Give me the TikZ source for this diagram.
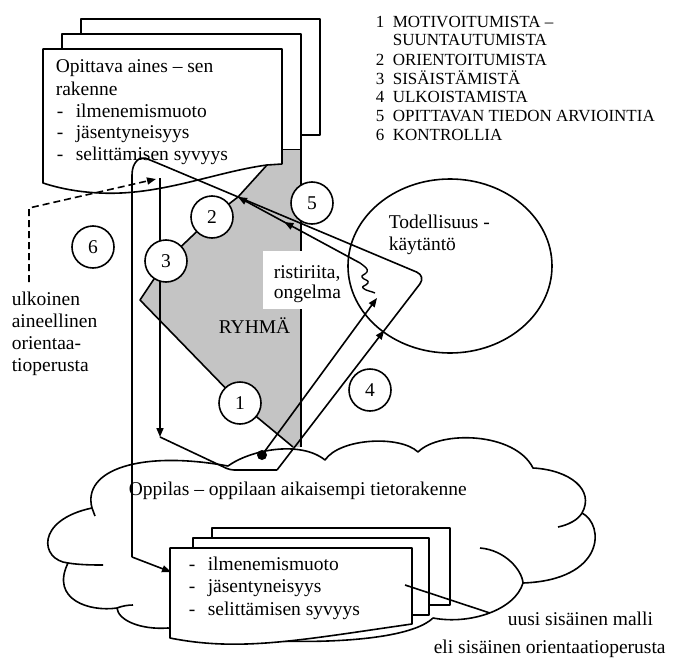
\documentclass[tikz,border=0pt]{standalone}
\usepackage{fontspec}
\setmainfont{Liberation Serif}
\usetikzlibrary{arrows.meta,decorations.markings}
\tikzset{
  tipend/.style={-{Triangle[length=9pt,width=7pt]}},
  midarrow/.style={postaction={decorate},decoration={markings,mark=at position #1 with {\arrow{Triangle[length=9pt,width=7pt]}}}},
  numc/.style={circle,draw,fill=white,minimum size=42pt,inner sep=0pt,font=\fontsize{19.5}{19.5}\selectfont},
  lbl/.style={anchor=base west,inner sep=0pt,font=\fontsize{19.5}{22}\selectfont},
  lst/.style={anchor=base west,inner sep=0pt,font=\fontsize{17}{19}\selectfont},
  pagebox/.style={draw,fill=white},
  ryhma/.style={fill={rgb,255:red,196;green,196;blue,196}},
}
\begin{document}
\begin{tikzpicture}[x=1pt,y=-1pt,line width=1.6pt,line join=round]
\useasboundingbox (0,0) rectangle (674,661);
\fill[white] (0,0) rectangle (674,661);

% ---------- cloud (Oppilas)
\draw (92,508) .. controls (82,470) and (140,450) .. (228,466)
  .. controls (250,450) and (300,440) .. (325,460)
  .. controls (340,438) and (400,435) .. (418,452)
  .. controls (440,430) and (515,432) .. (533,468)
  .. controls (570,470) and (595,490) .. (582,513)
  .. controls (605,525) and (605,580) .. (523,583)
  .. controls (515,610) and (470,625) .. (433,618)
  .. controls (400,650) and (230,645) .. (168,628)
  .. controls (140,630) and (118,620) .. (117,608)
  .. controls (90,612) and (50,600) .. (68,563)
  .. controls (40,560) and (35,520) .. (92,508) -- cycle;
\draw (92,508) .. controls (93,511) and (94,513) .. (95,516);
\draw (68,563) .. controls (80,565) and (95,565) .. (103,565);
\draw (117,608) .. controls (122,606) and (128,605) .. (133,605);
\draw (480,548) .. controls (505,550) and (522,570) .. (523,583);
\draw (582,513) .. controls (578,520) and (568,525) .. (558,527);

% ---------- top-left stacked pages
\draw[pagebox] (81,19) rectangle (320,135);
\draw[pagebox] (62,34) rectangle (301,150);
\fill[ryhma] (283,150) -- (301,150) -- (301,447) -- (293,447) -- (240,402)
  -- (140,300) -- (166,262) -- (212,217) -- (238,197) -- (267,165) -- (283,165) -- cycle;
\draw (301,150) -- (301,447);
\draw[pagebox] (43,49) -- (282,49) -- (282,164) -- (267,165)
  .. controls (215,172) and (160,196) .. (100,193)
  .. controls (75,192) and (55,187) .. (43,183) -- cycle;

\node[lbl] (tl1) at (55,73) {Opittava aines – sen};
\node[lbl] (tl2) at (55,95) {rakenne};
\node[lbl] (tl3a) at (56,117) {-};
\node[lbl] (tl3) at (75,117) {ilmenemismuoto};
\node[lbl] (tl4a) at (56,138) {-};
\node[lbl] (tl4) at (75,138) {jäsentyneisyys};
\node[lbl] (tl5a) at (56,160) {-};
\node[lbl] (tl5) at (75,160) {selittämisen syvyys};

% ---------- RYHMÄ polygon edges (circles placed on top later)
\coordinate (gA) at (267,165);
\coordinate (gB) at (238,197);
\coordinate (gC) at (140,300);
\coordinate (gD) at (293,447);
\coordinate (c1) at (240,403);
\coordinate (c2) at (212,217);
\coordinate (c3) at (166,261);
\draw (gA) -- (gB) -- (c2) -- (c3) -- (gC) -- (c1) -- (gD);

% label box
\node[fill=white,minimum width=84pt,minimum height=58pt,inner sep=0pt,anchor=north west] (rbox) at (262,250) {};
\node[lbl] (rist1) at (273,278) {ristiriita,};
\node[lbl] (rist2) at (273,298) {ongelma};
\node[lbl] (ryh) at (218,333) {RYHMÄ};

% ---------- Todellisuus ellipse
\draw (450,266) ellipse [x radius=102, y radius=87];
\node[lbl] (tod1) at (388,228) {Todellisuus -};
\node[lbl] (tod2) at (388,250) {käytäntö};

% ---------- zigzag (ristiriita)
\coordinate (ztop) at (360,263);
\coordinate (zbot) at (375,293);
\draw[line width=1.4pt] (ztop) .. controls (364,266) and (369,269) .. (367,272)
  .. controls (365,275) and (361,275) .. (362,277)
  .. controls (363,280) and (370,280) .. (368,283)
  .. controls (366,286) and (361,286) .. (363,288)
  .. controls (366,291) and (371,291) .. (zbot);

% ---------- connectors
\coordinate (dot) at (262,455);
\fill (dot) circle (5);
\draw[tipend] (dot) -- (377,298);
\draw[tipend,midarrow=0.62] (ztop) -- (gB);
\coordinate (l3top) at (160,178);
\coordinate (l3arr) at (160,437);
\coordinate (lbl0) at (230,470);
\coordinate (lbr) at (277,470);
\coordinate (lcrn) at (426,276);
\coordinate (lvb) at (132,557);
\coordinate (bin) at (171,572);
\draw[tipend] (l3top) -- (l3arr);
\draw[rounded corners=4pt] (l3arr) -- (lbl0) -- (lbr);
\draw[rounded corners=10pt,midarrow=176pt] (lbr) -- (lcrn) -- (155,162)
  .. controls (140,156) and (132,162) .. (132,185) -- (lvb);
\draw[tipend] (lvb) -- (bin);
\draw[dashed,dash pattern=on 7pt off 4pt,tipend] (29,282) -- (29,208) -- (156,179);

% ---------- numbered circles
\node[numc] (n1) at (c1) {1};
\node[numc] (n2) at (c2) {2};
\node[numc] (n3) at (c3) {3};
\node[numc] (n5) at (312,203) {5};
\node[numc] (n4) at (370,390) {4};
\node[numc] (n6) at (93,247) {6};

% ---------- left text
\node[lbl] (ul1) at (11,305) {ulkoinen};
\node[lbl] (ul2) at (11,327) {aineellinen};
\node[lbl] (ul3) at (11,349) {orientaa-};
\node[lbl] (ul4) at (11,371) {tioperusta};

% ---------- legend
\node[lst] (k1) at (375,28) {1};
\node[lst] (t1) at (392,28) {MOTIVOITUMISTA –};
\node[lst] (t1b) at (392,46) {SUUNTAUTUMISTA};
\node[lst] (k2) at (375,65.5) {2};
\node[lst] (t2) at (392,65.5) {ORIENTOITUMISTA};
\node[lst] (k3) at (375,84) {3};
\node[lst] (t3) at (392,84) {SISÄISTÄMISTÄ};
\node[lst] (k4) at (375,102.5) {4};
\node[lst] (t4) at (392,102.5) {ULKOISTAMISTA};
\node[lst] (k5) at (375,121.5) {5};
\node[lst] (t5) at (392,121.5) {OPITTAVAN TIEDON ARVIOINTIA};
\node[lst] (k6) at (375,140.5) {6};
\node[lst] (t6) at (392,140.5) {KONTROLLIA};

% ---------- Oppilas
\node[lbl] (opp) at (128,495) {Oppilas – oppilaan aikaisempi tietorakenne};

% ---------- bottom stacked pages
\draw[pagebox] (212,528) rectangle (450,605);
\draw[pagebox] (193,538) rectangle (429,615);
\draw[pagebox] (170,548) -- (412,548) -- (412,624)
  .. controls (300,640) and (240,652) .. (170,638) -- cycle;
\node[lbl] (b1a) at (188,570) {-};
\node[lbl] (b1) at (207,570) {ilmenemismuoto};
\node[lbl] (b2a) at (188,592) {-};
\node[lbl] (b2) at (207,592) {jäsentyneisyys};
\node[lbl] (b3a) at (188,615) {-};
\node[lbl] (b3) at (207,615) {selittämisen syvyys};
\coordinate (mp) at (405,585);
\coordinate (mq) at (490,613);
\draw (mp) -- (mq);
\node[lbl] (uu1) at (507,625) {uusi sisäinen malli};
\node[lbl] (uu2) at (433,653) {eli sisäinen orientaatioperusta};
\end{tikzpicture}
\end{document}
